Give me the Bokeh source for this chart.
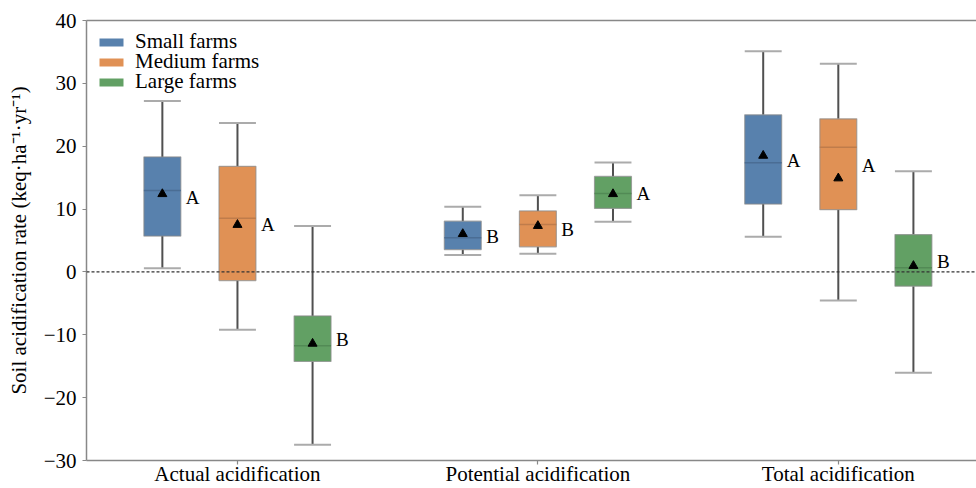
from bokeh.plotting import figure
from bokeh.models import (ColumnDataSource, Range1d, FixedTicker, LinearAxis, Span,
                          Legend, LegendItem)
from bokeh.core.properties import value
from bokeh.embed import file_html
from bokeh.resources import INLINE

# ---- data ----
categories = ["Actual acidification", "Potential acidification", "Total acidification"]
farms = ["Small farms", "Medium farms", "Large farms"]
colors = ["#5881ad", "#e09155", "#62a064"]
median_colors = ["#4a6d94", "#bf7c4b", "#528a55"]

# per farm size: values for [Actual, Potential, Total]
whisker_low = {
    "Small farms": [0.6, 2.7, 5.6],
    "Medium farms": [-9.2, 2.9, -4.55],
    "Large farms": [-27.5, 8.0, -16.05],
}
q1 = {
    "Small farms": [5.7, 3.56, 10.8],
    "Medium farms": [-1.37, 4.0, 9.9],
    "Large farms": [-14.25, 10.1, -2.27],
}
median = {
    "Small farms": [12.95, 5.42, 17.35],
    "Medium farms": [8.55, 7.54, 19.85],
    "Large farms": [-11.76, 12.47, 0.65],
}
q3 = {
    "Small farms": [18.3, 8.07, 25.0],
    "Medium farms": [16.8, 9.7, 24.35],
    "Large farms": [-7.0, 15.2, 5.95],
}
whisker_high = {
    "Small farms": [27.2, 10.35, 35.1],
    "Medium farms": [23.7, 12.2, 33.1],
    "Large farms": [7.3, 17.4, 16.0],
}
mean = {
    "Small farms": [12.4, 6.05, 18.5],
    "Medium farms": [7.5, 7.33, 14.9],
    "Large farms": [-11.4, 12.4, 0.97],
}
letters = {
    "Small farms": ["A", "B", "A"],
    "Medium farms": ["A", "B", "A"],
    "Large farms": ["B", "A", "B"],
}
y_ticks = [-30, -20, -10, 0, 10, 20, 30, 40]

offsets = [-0.25, 0.0, 0.25]
box_w = 0.123
FONT = "Liberation Serif"
legend_y = [406, 386, 366]  # screen px of each legend row's bottom above the frame bottom

p = figure(width=976, height=488, output_backend="svg", toolbar_location=None,
           x_range=Range1d(-0.5025, 2.46), y_range=Range1d(-30, 40),
           min_border_left=86, min_border_right=0, min_border_top=20,
           min_border_bottom=28, x_axis_type=None, y_axis_type=None)
p.outline_line_color = None
p.xgrid.visible = False
p.ygrid.visible = False
p.background_fill_color = "white"
p.border_fill_color = "white"

for i, f in enumerate(farms):
    xs = [g + offsets[i] for g in range(len(categories))]
    src = ColumnDataSource(dict(
        x=xs, lo=whisker_low[f], q1=q1[f], med=median[f], q3=q3[f], hi=whisker_high[f],
        mean=mean[f], letter=letters[f],
        left=[x - box_w / 2 for x in xs], right=[x + box_w / 2 for x in xs],
        mid=[(a + b) / 2 for a, b in zip(q1[f], q3[f])],
    ))
    # whiskers
    p.segment(x0="x", y0="lo", x1="x", y1="q1", source=src, line_color="#505050", line_width=2)
    p.segment(x0="x", y0="q3", x1="x", y1="hi", source=src, line_color="#505050", line_width=2)
    # caps
    p.segment(x0="left", y0="lo", x1="right", y1="lo", source=src, line_color="#ababab", line_width=2)
    p.segment(x0="left", y0="hi", x1="right", y1="hi", source=src, line_color="#ababab", line_width=2)
    # box fill
    r = p.vbar(x="x", width=box_w, bottom="q1", top="q3", source=src,
               fill_color=colors[i], line_color=None)
    # box outline
    p.vbar(x="x", width=box_w, bottom="q1", top="q3", source=src,
           fill_color=None, line_color="#8a8a8a", line_alpha=0.7, line_width=1.2)
    # median
    p.segment(x0="left", y0="med", x1="right", y1="med", source=src,
              line_color=median_colors[i], line_width=1.5)
    # mean
    p.scatter(x="x", y="mean", source=src, marker="triangle", size=9,
              fill_color="black", line_color="black")
    # significance letters
    p.text(x="right", y="mid", text="letter", source=src, x_offset=5, y_offset=1,
           text_font=value(FONT), text_font_size="19px", text_align="left",
           text_baseline="middle", text_color="black")
    lg = Legend(items=[LegendItem(label=f, renderers=[r])], location=(10, legend_y[i]),
                orientation="vertical", glyph_width=30, glyph_height=10, label_standoff=9,
                spacing=0, padding=0, margin=0, border_line_color=None,
                background_fill_alpha=0, label_text_font=FONT, label_text_font_size="21px",
                label_text_color="black")
    p.add_layout(lg)

p.add_layout(Span(location=0, dimension="width", line_color="#333333",
                  line_dash="3 2", line_width=1.2))

# axes
yax = LinearAxis(ticker=FixedTicker(ticks=y_ticks),
                 major_label_overrides={-30: "\u221230", -20: "\u221220", -10: "\u221210"},
                 axis_label="Soil acidification rate (keq\u00b7ha\u207b\u00b9\u00b7yr\u207b\u00b9)")
xax = LinearAxis(ticker=FixedTicker(ticks=[0, 1, 2]),
                 major_label_overrides={0: categories[0], 1: categories[1], 2: categories[2]})
topax = LinearAxis(ticker=FixedTicker(ticks=[]), major_label_text_font_size="0px",
                   major_tick_line_color=None, minor_tick_line_color=None)
for ax in (yax, xax, topax):
    ax.axis_line_color = "#888888"
    ax.axis_line_width = 1.5
    ax.major_tick_line_color = "#888888"
    ax.major_tick_line_width = 1.2
    ax.major_tick_in = 0
    ax.major_tick_out = 4
    ax.minor_tick_line_color = None
    ax.major_label_text_font = FONT
    ax.major_label_text_font_size = "21px"
    ax.major_label_text_color = "black"
    ax.axis_label_text_font = FONT
    ax.axis_label_text_font_size = "21px"
    ax.axis_label_text_font_style = "normal"
    ax.axis_label_text_color = "black"
topax.major_tick_line_color = None
topax.major_label_text_font_size = "0px"
yax.major_label_standoff = 6
yax.axis_label_standoff = 10
xax.major_label_standoff = -3
p.add_layout(yax, "left")
p.add_layout(xax, "below")
p.add_layout(topax, "above")

open("out.html", "w").write(file_html(p, INLINE))
